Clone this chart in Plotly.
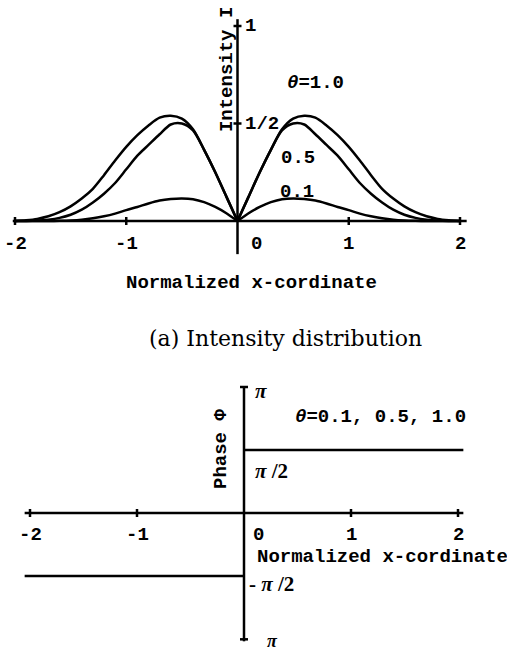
import math
import plotly.graph_objects as go

# ---------------- data ----------------
x_left = [-2.0, -1.9, -1.8, -1.7, -1.6, -1.5, -1.4, -1.3, -1.2, -1.1, -1.0,
          -0.9, -0.8, -0.7, -0.6, -0.5, -0.4, -0.3, -0.2, -0.1, 0.0]
x_right = [0.0, 0.1, 0.2, 0.3, 0.4, 0.5, 0.6, 0.7, 0.8, 0.9, 1.0,
           1.1, 1.2, 1.3, 1.4, 1.5, 1.6, 1.7, 1.8, 1.9, 2.0]

I_theta10_left = [0.0, 0.004, 0.011, 0.024, 0.045, 0.075, 0.115, 0.165, 0.235, 0.31, 0.38,
                  0.44, 0.49, 0.53, 0.54, 0.525, 0.47, 0.365, 0.25, 0.125, 0.0]
I_theta10_right = [0.0, 0.125, 0.25, 0.365, 0.47, 0.525, 0.54, 0.53, 0.49, 0.44, 0.38,
                   0.31, 0.235, 0.165, 0.115, 0.075, 0.045, 0.024, 0.011, 0.004, 0.0]

I_theta05_left = [0.0, 0.0, 0.002, 0.007, 0.016, 0.032, 0.058, 0.095, 0.14, 0.195, 0.265,
                  0.335, 0.39, 0.445, 0.495, 0.50, 0.465, 0.365, 0.25, 0.125, 0.0]
I_theta05_right = [0.0, 0.125, 0.25, 0.365, 0.465, 0.50, 0.495, 0.445, 0.39, 0.335, 0.265,
                   0.195, 0.14, 0.095, 0.058, 0.032, 0.016, 0.007, 0.002, 0.0, 0.0]

I_theta01_left = [0.0, 0.0, 0.0, 0.0, 0.001, 0.003, 0.007, 0.014, 0.024, 0.038, 0.056,
                  0.072, 0.09, 0.105, 0.113, 0.116, 0.112, 0.097, 0.072, 0.04, 0.0]
I_theta01_right = [0.0, 0.04, 0.072, 0.097, 0.112, 0.116, 0.113, 0.105, 0.09, 0.072, 0.056,
                   0.038, 0.024, 0.014, 0.007, 0.003, 0.001, 0.0, 0.0, 0.0, 0.0]

phase_x_left = [-2.05, 0.0]
phase_left = [-math.pi / 2, -math.pi / 2]
phase_x_right = [0.0, 2.05]
phase_right = [math.pi / 2, math.pi / 2]

x_ticks = [-2, -1, 1, 2]
x_tick_text = ["-2", "-1", "1", "2"]
I_ticks = [1.0, 0.5]
I_tick_text = ["1", "1/2"]
curve_labels = ["<i>θ</i>=1.0", "0.5", "0.1"]

# ---------------- styling ----------------
BLACK = "black"
LW = 2.5
MONO = "Liberation Mono"
SERIF = "Liberation Serif"

fig = go.Figure()

for xs, ys in [(x_left, I_theta10_left), (x_right, I_theta10_right),
               (x_left, I_theta05_left), (x_right, I_theta05_right),
               (x_left, I_theta01_left), (x_right, I_theta01_right)]:
    fig.add_trace(go.Scatter(x=xs, y=ys, mode="lines", xaxis="x", yaxis="y",
                             line=dict(color=BLACK, width=LW, shape="spline", smoothing=0.8),
                             showlegend=False, hoverinfo="skip"))

for xs, ys in [(phase_x_left, phase_left), (phase_x_right, phase_right)]:
    fig.add_trace(go.Scatter(x=xs, y=ys, mode="lines", xaxis="x2", yaxis="y2",
                             line=dict(color=BLACK, width=LW),
                             showlegend=False, hoverinfo="skip"))

shapes = []
# --- top panel axes
shapes.append(dict(type="line", xref="x", yref="y", x0=-2.02, x1=2.06, y0=0, y1=0,
                   line=dict(color=BLACK, width=LW)))
shapes.append(dict(type="line", xref="x", yref="y", x0=0, x1=0, y0=-0.17, y1=1.035,
                   line=dict(color=BLACK, width=LW)))
for v in x_ticks:
    shapes.append(dict(type="line", xref="x", yref="y", x0=v, x1=v,
                       ysizemode="pixel", yanchor=0, y0=-4, y1=4,
                       line=dict(color=BLACK, width=LW)))
for v in I_ticks:
    shapes.append(dict(type="line", xref="x", yref="y", y0=v, y1=v,
                       xsizemode="pixel", xanchor=0, x0=-4, x1=4,
                       line=dict(color=BLACK, width=LW)))
# --- bottom panel axes
shapes.append(dict(type="line", xref="x2", yref="y2", x0=-2.05, x1=2.05, y0=0, y1=0,
                   line=dict(color=BLACK, width=LW)))
shapes.append(dict(type="line", xref="x2", yref="y2", x0=0, x1=0, y0=-3.2, y1=math.pi,
                   line=dict(color=BLACK, width=LW)))
for v in x_ticks:
    shapes.append(dict(type="line", xref="x2", yref="y2", x0=v, x1=v,
                       ysizemode="pixel", yanchor=0, y0=-4, y1=4,
                       line=dict(color=BLACK, width=LW)))
for v in [math.pi, -3.15]:
    shapes.append(dict(type="line", xref="x2", yref="y2", y0=v, y1=v,
                       xsizemode="pixel", xanchor=0, x0=-4, x1=4,
                       line=dict(color=BLACK, width=LW)))

mono = dict(family=MONO, size=19, color=BLACK, weight="bold")
ann = []
# top tick labels
for v, t in zip(x_ticks, x_tick_text):
    ann.append(dict(x=v, y=0, xref="x", yref="y", text=t, showarrow=False,
                    yshift=-23, font=mono))
ann.append(dict(x=0, y=0, xref="x", yref="y", text="0", showarrow=False,
                xshift=19, yshift=-23, font=mono))
for v, t in zip(I_ticks, I_tick_text):
    ann.append(dict(x=0, y=v, xref="x", yref="y", text=t, showarrow=False,
                    xanchor="left", xshift=5, font=mono))
# curve labels
for (cx, cy), t in zip([(0.705, 0.708), (0.544, 0.323), (0.535, 0.149)], curve_labels):
    ann.append(dict(x=cx, y=cy, xref="x", yref="y", text=t, showarrow=False, font=mono))
ann.append(dict(x=0.13, y=-0.318, xref="x", yref="y", text="Normalized x-cordinate",
                showarrow=False, font=mono))
ann.append(dict(x=-0.094, y=0.774, xref="x", yref="y", text="Intensity I",
                textangle=-90, showarrow=False, font=mono))
ann.append(dict(x=147 / 507, y=1 - 338 / 651, xref="paper", yref="paper",
                text="(a) Intensity distribution", showarrow=False, xanchor="left",
                font=dict(family="DejaVu Serif", size=22, color=BLACK)))

# bottom tick labels
for v, t in zip(x_ticks, x_tick_text):
    ann.append(dict(x=v, y=0, xref="x2", yref="y2", text=t, showarrow=False,
                    yshift=-22, font=mono))
ann.append(dict(x=0, y=0, xref="x2", yref="y2", text="0", showarrow=False,
                xshift=14, yshift=-22, font=mono))
pi_font = dict(family=SERIF, size=21, color=BLACK, weight="bold")
ann.append(dict(x=0, y=math.pi, xref="x2", yref="y2", text="<b><i>π</i></b>", showarrow=False,
                xanchor="left", xshift=9, yshift=-4, font=pi_font))
ann.append(dict(x=0, y=math.pi / 2, xref="x2", yref="y2", text="<b><i>π</i> /2</b>", showarrow=False,
                xanchor="left", xshift=9, yshift=-21, font=pi_font))
ann.append(dict(x=0, y=-math.pi / 2, xref="x2", yref="y2", text="<b>- <i>π</i> /2</b>", showarrow=False,
                xanchor="left", xshift=3, yshift=-8, font=pi_font))
ann.append(dict(x=0, y=-3.15, xref="x2", yref="y2", text="<b><i>π</i></b>", showarrow=False,
                xanchor="left", xshift=21, yshift=-2, font=dict(family=SERIF, size=18,
                                                                 color=BLACK, weight="bold")))
ann.append(dict(x=1.28, y=2.39, xref="x2", yref="y2", text="<i>θ</i>=0.1, 0.5, 1.0",
                showarrow=False, font=mono))
ann.append(dict(x=0.103, y=-1.097, xref="x2", yref="y2", text="Normalized x-cordinate",
                showarrow=False, xanchor="left", font=mono))
ann.append(dict(x=-0.215, y=1.596, xref="x2", yref="y2", text="Phase Φ",
                textangle=-90, showarrow=False, font=mono))

hidden = dict(visible=False, showgrid=False, zeroline=False, fixedrange=True)
fig.update_layout(
    width=507, height=651,
    margin=dict(l=0, r=0, t=0, b=0),
    paper_bgcolor="white", plot_bgcolor="white",
    xaxis=dict(domain=[0, 1], range=[-237.5 / 111.25, (507 - 237.5) / 111.25], anchor="y", **hidden),
    yaxis=dict(domain=[0.5, 1], range=[(221 - 325.5) / 195, 221 / 195], anchor="x", **hidden),
    xaxis2=dict(domain=[0, 1], range=[-244 / 107, (507 - 244) / 107], anchor="y2", **hidden),
    yaxis2=dict(domain=[0, 0.5], range=[(513 - 651) / 40.1, (513 - 325.5) / 40.1], anchor="x2", **hidden),
    shapes=shapes,
    annotations=ann,
    showlegend=False,
)

fig.write_html("out.html")
